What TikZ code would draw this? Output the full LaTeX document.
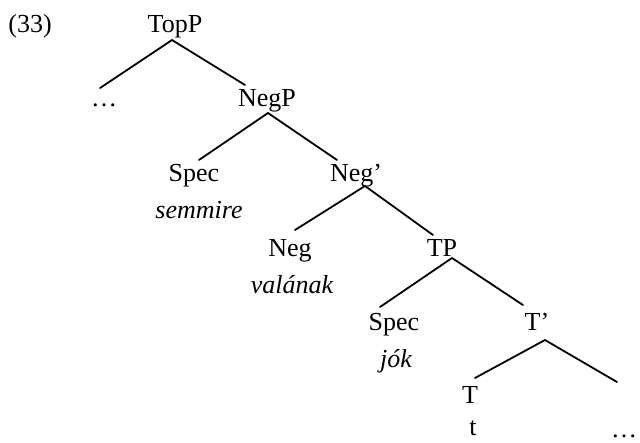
\documentclass[tikz,border=0pt]{standalone}
\usepackage{fontspec}
\setmainfont{Liberation Serif}
\tikzstyle{cat} = [anchor=base, inner sep=0pt, font=\fontsize{26}{30}\selectfont]
\tikzstyle{word} = [cat, font=\fontsize{26}{30}\selectfont\itshape]
\tikzstyle{branch} = [line width=1.8pt, line cap=round]

\begin{document}
\begin{tikzpicture}[x=1pt, y=-1pt]
        \useasboundingbox (0,0) rectangle (640,442);
        \node (ex) [cat] at (30,32) {(33)};
        % nodes
        \node (topp) [cat] at (175,32) {TopP};
        \node (dotsa) [cat] at (104,106) {…};
        \node (negp) [cat] at (267,106) {NegP};
        \node (speca) [cat] at (194,181) {Spec};
        \node (semmire) [word] at (199,218) {semmire};
        \node (negbar) [cat] at (356,181) {Neg’};
        \node (neg) [cat] at (290,256) {Neg};
        \node (valanak) [word] at (292,293) {valának};
        \node (tp) [cat] at (442,256) {TP};
        \node (specb) [cat] at (394,330) {Spec};
        \node (jok) [word] at (396,367) {jók};
        \node (tbar) [cat] at (537,330) {T’};
        \node (t) [cat] at (470,403) {T};
        \node (trace) [cat] at (473,435) {t};
        \node (dotsb) [cat] at (624,437) {…};

        % branching points and branch ends
        \coordinate (topp-f) at (172,40);
        \coordinate (dotsa-e) at (100,88);
        \coordinate (negp-e) at (245,85);
        \coordinate (negp-f) at (268,113);
        \coordinate (speca-e) at (199,160);
        \coordinate (negbar-e) at (337,160);
        \coordinate (negbar-f) at (365,186);
        \coordinate (neg-e) at (295,230);
        \coordinate (tp-e) at (433,235);
        \coordinate (tp-f) at (452,258);
        \coordinate (specb-e) at (380,307);
        \coordinate (tbar-e) at (523,305);
        \coordinate (tbar-f) at (545,340);
        \coordinate (t-e) at (475,378);
        \coordinate (dotsb-e) at (617,382);

        \draw [branch] (dotsa-e) -- (topp-f) -- (negp-e);
        \draw [branch] (speca-e) -- (negp-f) -- (negbar-e);
        \draw [branch] (neg-e) -- (negbar-f) -- (tp-e);
        \draw [branch] (specb-e) -- (tp-f) -- (tbar-e);
        \draw [branch] (t-e) -- (tbar-f) -- (dotsb-e);
    \end{tikzpicture}
\end{document}
